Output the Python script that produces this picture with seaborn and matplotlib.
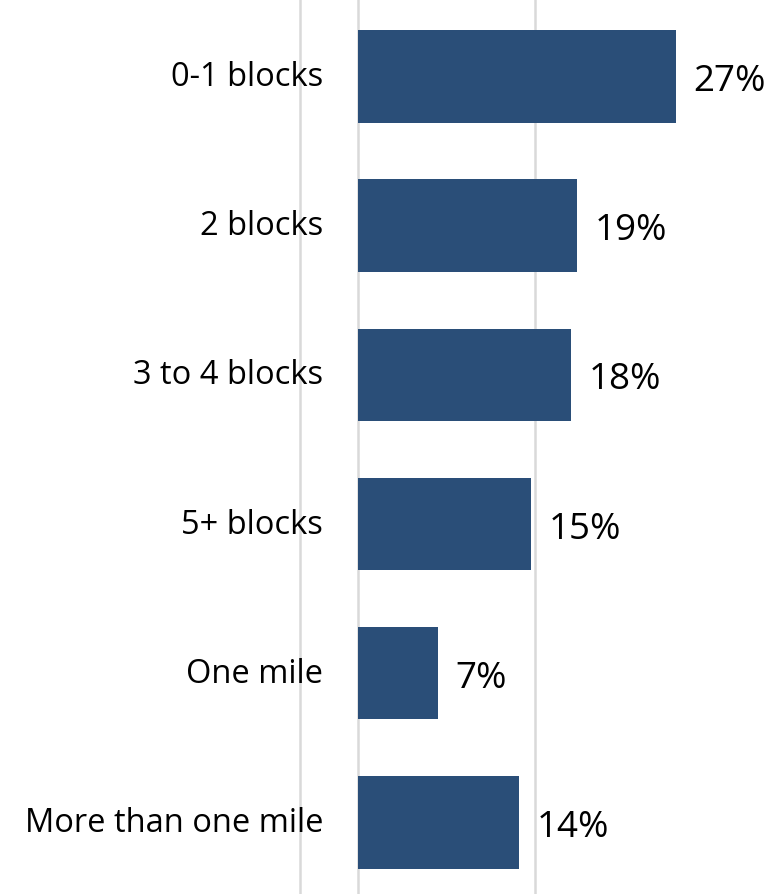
import pandas as pd
import numpy as np
import matplotlib
matplotlib.use('Agg')
import matplotlib.pyplot as plt
import seaborn as sns

# distance categories and share of respondents (%)
categories = ['0-1 blocks', '2 blocks', '3 to 4 blocks', '5+ blocks', 'One mile', 'More than one mile']
shares = [27.0, 18.6, 18.1, 14.7, 6.8, 13.7]

data = pd.DataFrame({'Distance': categories, 'Share': shares})

sns.set_style('white')
plt.rcParams['font.family'] = ['Open Sans', 'DejaVu Sans']

fig = plt.figure(figsize=(7.66, 8.95), dpi=100)
ax = fig.add_axes([0, 0, 1, 1])

sns.barplot(data=data, x='Share', y='Distance', orient='h', color='#2a4e78',
            width=0.62, saturation=1, linewidth=0, ax=ax, zorder=3)

# light vertical gridlines and the zero axis line
ax.set_xticks([-5, 15, 35])
ax.grid(axis='x', color='#d9d9d9', linewidth=1.8, zorder=0)
ax.axvline(0, color='#d9d9d9', linewidth=1.8, zorder=1)
ax.set_xlim(-30.5, 34.7)
ax.set_ylim(len(categories) - 0.52, -0.52)

for s in ax.spines.values():
    s.set_visible(False)
ax.set_xticklabels([])
ax.set_yticklabels([])
ax.tick_params(length=0)
ax.set_xlabel('')
ax.set_ylabel('')

# category labels and value labels
for i, (cat, val) in enumerate(zip(categories, shares)):
    ax.text(-3.0, i, cat, ha='right', va='center', fontsize=23.5, color='black')
    ax.text(val + 1.5, i + 0.03, f'{val:.0f}%', ha='left', va='center', fontsize=26.5, color='black')

plt.savefig('out.png', dpi=100)
